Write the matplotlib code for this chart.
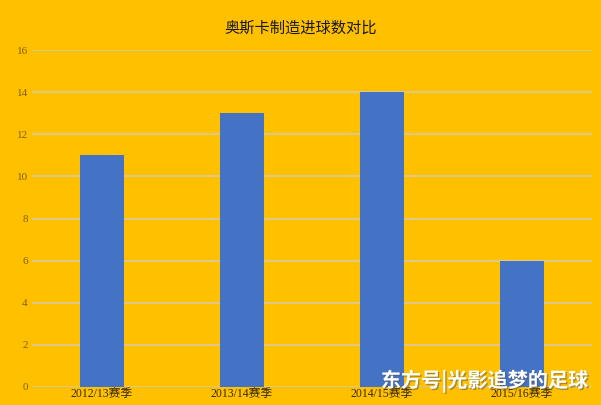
import matplotlib
matplotlib.use("Agg")
import matplotlib.pyplot as plt
import matplotlib.patheffects as pe

categories = ["2012/13赛季", "2013/14赛季", "2014/15赛季", "2015/16赛季"]
values = [11, 13, 14, 6]
yticks = [0, 2, 4, 6, 8, 10, 12, 14, 16]
title = "奥斯卡制造进球数对比"
watermark = "东方号|光影追梦的足球"

bg = "#FFC000"
fig = plt.figure(figsize=(6.01, 4.05), dpi=100, facecolor=bg)
ax = fig.add_axes([32/601, 18/405, 560/601, 337/405])
ax.set_facecolor(bg)

x = list(range(len(categories)))
ax.bar(x, values, width=0.314, color="#4472C4", zorder=3)
ax.set_xlim(-0.5, len(categories) - 0.5)
ax.set_ylim(0, 16)
ax.set_yticks(yticks)
ax.set_yticklabels([str(v) for v in yticks], family=["Liberation Serif", "DejaVu Serif"],
                   fontsize=8, color="#7F6000")
ax.set_xticks(x)
ax.set_xticklabels(categories, family=["Liberation Serif", "Noto Sans CJK SC"],
                   fontsize=8.5, color="#3A2A00")
ax.tick_params(length=0, pad=3)
ax.tick_params(axis="x", pad=1)
ax.grid(axis="y", color="#D9C9A0", linewidth=1.2, zorder=0)
for s in ax.spines.values():
    s.set_visible(False)

fig.text(0.5, 1 - 28/405, title, ha="center", va="center", fontsize=11,
         family=["Noto Sans CJK SC", "DejaVu Sans"], color="#1A1A1A")

fig.text(588/601, 1 - 381/405, watermark, ha="right", va="center", fontsize=14.5,
         fontweight="bold", family=["Noto Sans CJK SC", "DejaVu Sans"], color="white",
         path_effects=[pe.withSimplePatchShadow(offset=(1, -1), shadow_rgbFace="#555555", alpha=0.5)])

fig.savefig("out.png", dpi=100, facecolor=bg)
